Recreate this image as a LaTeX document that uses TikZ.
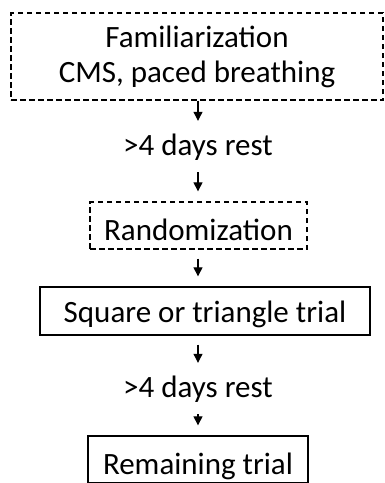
\documentclass[tikz,border=0pt]{standalone}
\usepackage{fontspec}
\setmainfont{Carlito}
\usepackage{tikz}
\usetikzlibrary{arrows.meta,calc}

\begin{document}
\begin{tikzpicture}[x=1pt,y=-1pt,
  dbox/.style={draw,line width=1.3pt,dash pattern=on 5.5pt off 3.5pt,
               inner sep=0pt,align=center,font=\fontsize{31}{35}\selectfont},
  sbox/.style={draw,line width=1.3pt,inner sep=0pt,align=center,
               font=\fontsize{31}{35}\selectfont},
  rest/.style={inner sep=0pt,text height=24pt,text depth=8pt,
               font=\fontsize{31}{35}\selectfont},
  arr/.style={-{Triangle[length=9pt,width=9pt]},line width=1.1pt,
              shorten >=10pt,shorten <=9pt}
]
  \useasboundingbox (0,0) rectangle (384,483);
  \clip (0,0) rectangle (384,483);

  % boxes and resting periods, top to bottom
  \node[dbox,minimum width=372pt,minimum height=87pt](fam) at (197,56.5)
      {Familiarization\\CMS, paced breathing};
  \node[rest](rest1) at (198,147) {>4 days rest};
  \node[dbox,minimum width=217pt,minimum height=47pt,
        text height=30pt,text depth=0pt](rand) at (198.5,225.5) {Randomization};
  \node[sbox,minimum width=330pt,minimum height=48pt,
        text height=24pt,text depth=2pt](sq) at (205,311) {Square or triangle trial};
  \node[rest](rest2) at (198,389) {>4 days rest};
  \node[sbox,minimum width=220pt,minimum height=47pt,
        text height=30pt,text depth=0pt](rem) at (198,459.5) {Remaining trial};

  % arrows
  \draw[arr,shorten <=0pt] (rest1.north |- fam.south) -- (rest1.north);
  \draw[arr] (rest1.south) -- (rest1.south |- rand.north);
  \draw[arr] (rest1.south |- rand.south) -- (rest1.south |- sq.north);
  \draw[arr] (rest2.north |- sq.south) -- (rest2.north);
  \draw[arr] (rest2.south) -- (rest2.south |- rem.north);
\end{tikzpicture}
\end{document}
